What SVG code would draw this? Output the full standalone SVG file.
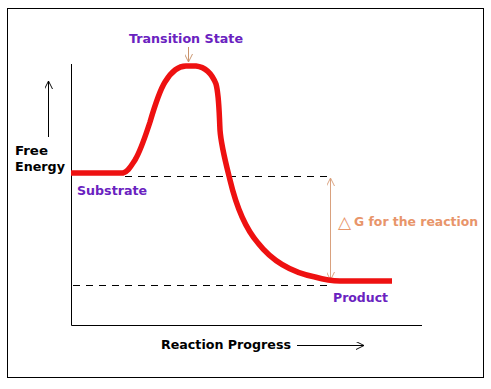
<svg xmlns="http://www.w3.org/2000/svg" width="491" height="389" viewBox="0 0 491 389">
<style>
.lbl{font-family:"DejaVu Sans",Verdana,sans-serif;font-weight:bold;font-size:12px}
.purple{fill:#6a22c0}
.black{fill:#000}
.orange{fill:#e8956a}
.dash{stroke:#000;stroke-width:1;stroke-dasharray:7 6;fill:none}
.ax{stroke:#000;stroke-width:1;fill:none}
</style>
<defs>
<marker id="open" viewBox="0 0 10 10" refX="10" refY="5" markerWidth="8" markerHeight="8" markerUnits="userSpaceOnUse" orient="auto-start-reverse">
<path d="M0,0 L10,5 L0,10" fill="none" stroke="context-stroke" stroke-width="1.2"/>
</marker>
</defs>
<rect x="0" y="0" width="491" height="389" fill="#fff"/>
<rect x="7.5" y="8.5" width="476" height="369" fill="none" stroke="#000" stroke-width="1"/>
<g id="connectors">
<path class="ax" d="M71.5,64 V325.5 H422"/>
<line x1="48.5" y1="137" x2="48.5" y2="81" stroke="#000" stroke-width="1" marker-end="url(#open)"/>
<line x1="297" y1="345.5" x2="364" y2="345.5" stroke="#000" stroke-width="1" marker-end="url(#open)"/>
<line class="dash" x1="125" y1="176.5" x2="333" y2="176.5"/>
<line class="dash" x1="73" y1="285.5" x2="333" y2="285.5"/>
<line x1="330.5" y1="178" x2="330.5" y2="280" stroke="#d9a17e" stroke-width="1" marker-start="url(#open)" marker-end="url(#open)"/>
<line x1="188.5" y1="47" x2="188.5" y2="62" stroke="#c9936c" stroke-width="1" marker-end="url(#open)"/>
<path id="curve" d="M71,173 L123,173 C128,172 131,166 135,160 C141,150 145,137 150,122 C155,105 160,90 165,82 C171,72 177,66 186,66 L196,66 C205,67 212,74 216,84 C219,95 219,110 220,130 C221,145 225,160 230,180 C236,205 245,228 258,243 C272,261 290,272 315,277 C322,279 330,281 340,281 L392,281" fill="none" stroke="#ee1111" stroke-width="5.5" stroke-linejoin="round"/>
</g>
<g id="transition-state"><text class="lbl purple" x="129" y="43" textLength="114" lengthAdjust="spacingAndGlyphs">Transition State</text></g>
<g id="free-energy">
<text class="lbl black" x="15" y="155" textLength="33" lengthAdjust="spacingAndGlyphs">Free</text>
<text class="lbl black" x="15" y="171" textLength="50" lengthAdjust="spacingAndGlyphs">Energy</text>
</g>
<g id="substrate"><text class="lbl purple" x="77" y="195" textLength="70" lengthAdjust="spacingAndGlyphs">Substrate</text></g>
<g id="product"><text class="lbl purple" x="333" y="302" textLength="55" lengthAdjust="spacingAndGlyphs">Product</text></g>
<g id="delta-g">
<text x="338" y="228" font-family="DejaVu Sans, sans-serif" font-size="17" fill="#e8956a">△</text>
<text class="lbl orange" x="354" y="226" textLength="124" lengthAdjust="spacingAndGlyphs">G for the reaction</text>
</g>
<g id="reaction-progress"><text class="lbl black" x="161" y="349" textLength="130" lengthAdjust="spacingAndGlyphs">Reaction Progress</text></g>
</svg>
